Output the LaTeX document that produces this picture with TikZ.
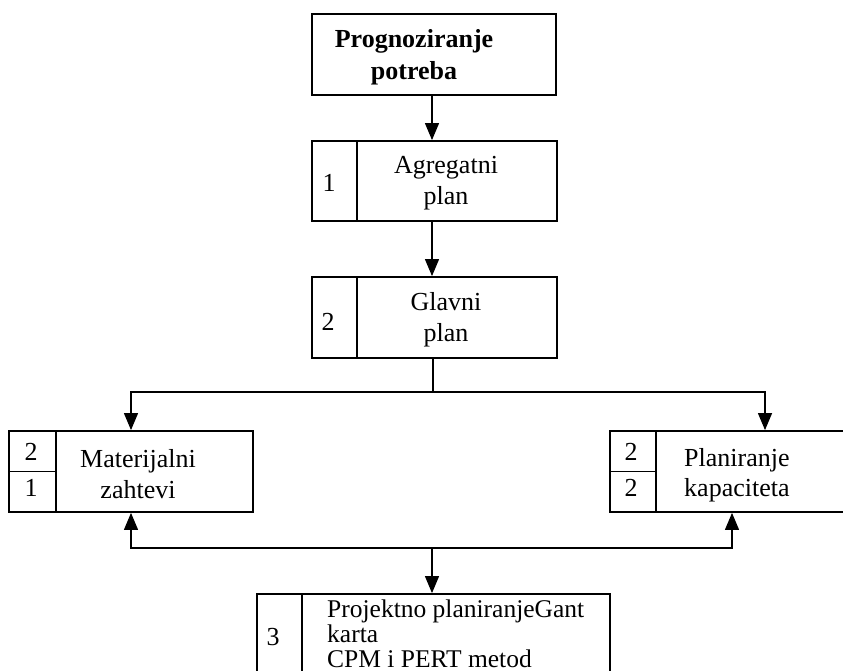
\documentclass[tikz,border=0pt]{standalone}
\usepackage{fontspec}
\setmainfont{Liberation Serif}
\usetikzlibrary{arrows.meta}
\begin{document}
\begin{tikzpicture}[x=1pt,y=-1pt,
  box/.style={draw, line width=1.8pt, inner sep=0pt},
  txt/.style={font=\fontsize{26}{31}\selectfont, inner sep=0pt, align=center},
  ltxt/.style={font=\fontsize{26}{30}\selectfont, inner sep=0pt, align=left, anchor=west},
  num/.style={font=\fontsize{26}{31}\selectfont, inner sep=0pt},
  conn/.style={line width=1.2pt},
  arr/.style={line width=1.2pt, -{Triangle[width=14pt,length=17pt]}},
  div/.style={line width=1.8pt}]
\useasboundingbox (0,0) rectangle (843,671);
\clip (0,0) rectangle (843,671);
\fill[white] (0,0) rectangle (843,671);

% top box
\node[box, minimum width=244pt, minimum height=81pt] (top) at (434,54.5) {};
\node[txt, font=\fontsize{26}{32}\selectfont\bfseries] (toptxt) at (414,57) {Prognoziranje\\potreba};

% Agregatni plan
\node[box, minimum width=245pt, minimum height=80pt] (agg) at (434.5,181) {};
\draw[div] ([xshift=46pt]agg.north west) -- ([xshift=46pt]agg.south west);
\node[num] (aggn) at (329,183) {1};
\node[txt] (aggt) at (446,183) {Agregatni\\plan};

% Glavni plan
\node[box, minimum width=245pt, minimum height=81pt] (glav) at (434.5,317.5) {};
\draw[div] ([xshift=46pt]glav.north west) -- ([xshift=46pt]glav.south west);
\node[num] (glavn) at (328,322) {2};
\node[txt] (glavt) at (446,320) {Glavni\\plan};

% Materijalni zahtevi
\node[box, minimum width=244pt, minimum height=81pt] (mat) at (131,471.5) {};
\draw[div] ([xshift=48pt]mat.north west) -- ([xshift=48pt]mat.south west);
\draw[div] (mat.west) -- ([xshift=48pt]mat.west);
\node[num] (matn1) at (31,452) {2};
\node[num] (matn2) at (31,488) {1};
\node[txt] (matt) at (138,474) {Materijalni\\zahtevi};

% Planiranje kapaciteta
\node[box, minimum width=260pt, minimum height=81pt] (plan) at (740,471.5) {};
\draw[div] ([xshift=47pt]plan.north west) -- ([xshift=47pt]plan.south west);
\draw[div] (plan.west) -- ([xshift=47pt]plan.west);
\node[num] (plann1) at (631,452) {2};
\node[num] (plann2) at (631,488) {2};
\node[ltxt] (plant) at (684,475) {Planiranje\\kapaciteta};

% Projektno planiranje
\node[box, minimum width=353pt, minimum height=106pt] (proj) at (433.5,647) {};
\draw[div] ([xshift=46pt]proj.north west) -- ([xshift=46pt]proj.south west);
\node[num] (projn) at (273,637) {3};
\node[ltxt, font=\fontsize{25.5}{25}\selectfont] (projt) at (327,634) {Projektno planiranjeGant\\karta\\CPM i PERT metod};

% connectors
\draw[arr] ([xshift=-2pt]top.south) -- ([xshift=-2.5pt]agg.north);
\draw[arr] ([xshift=-2.5pt]agg.south) -- ([xshift=-2.5pt]glav.north);

\coordinate (split) at (433,392);
\coordinate (jl) at (131,392);
\coordinate (jr) at (765,392);
\draw[conn] ([xshift=-1.5pt]glav.south) -- (split);
\draw[arr] (split) -- (jl) -- (mat.north);
\draw[arr] (split) -- (jr) -- (jr |- plan.north);

\coordinate (bj) at (432,548);
\coordinate (bl) at (131,548);
\coordinate (br) at (732,548);
\draw[arr] (bj) -- (bj |- proj.north);
\draw[arr] (bj) -- (bl) -- (mat.south);
\draw[arr] (bj) -- (br) -- (br |- plan.south);
\end{tikzpicture}
\end{document}
